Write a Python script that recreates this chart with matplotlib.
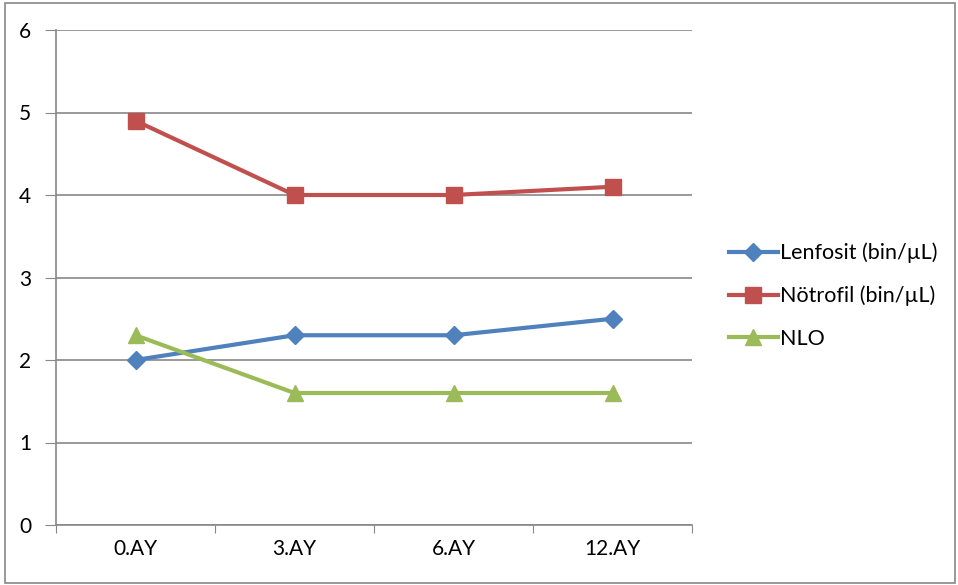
import matplotlib
matplotlib.use("Agg")
import matplotlib.pyplot as plt
from matplotlib.patches import Rectangle

categories = ["0.AY", "3.AY", "6.AY", "12.AY"]
lenfosit = [2.0, 2.3, 2.3, 2.5]
notrofil = [4.9, 4.0, 4.0, 4.1]
nlo = [2.3, 1.6, 1.6, 1.6]
y_ticks = [0, 1, 2, 3, 4, 5, 6]

plt.rcParams["font.family"] = ["Lato", "DejaVu Sans"]

W, H = 958, 585
fig = plt.figure(figsize=(W / 100, H / 100), dpi=100)
fig.patches.append(Rectangle((5 / W, 2 / H), 950 / W, 580 / H, transform=fig.transFigure,
                             fill=False, edgecolor="#888888", linewidth=1.2))

ax = fig.add_axes([56 / W, 1 - 525 / H, (692 - 56) / W, (525 - 30) / H])
x = [i + 0.5 for i in range(len(categories))]

ax.plot(x, lenfosit, color="#4F81BD", lw=3, marker="D", ms=9, label="Lenfosit (bin/µL)")
ax.plot(x, notrofil, color="#C0504D", lw=3, marker="s", ms=11, label="Nötrofil (bin/µL)")
ax.plot(x, nlo, color="#9BBB59", lw=3, marker="^", ms=12, label="NLO")

ax.set_xlim(0, len(categories))
ax.set_ylim(0, 6)
ax.set_yticks(y_ticks)
ax.set_xticks(range(len(categories) + 1))
ax.set_xticklabels([])
ax.set_xticks(x, minor=True)
ax.set_xticklabels(categories, minor=True)
ax.tick_params(axis="x", which="minor", length=0, pad=10, labelsize=15)
ax.tick_params(axis="x", which="major", length=6, color="#888888", direction="out")
ax.tick_params(axis="y", length=8, color="#888888", pad=10, labelsize=15)

ax.grid(axis="y", color="#888888", lw=1.2)
ax.set_axisbelow(True)
for s in ["top", "right"]:
    ax.spines[s].set_visible(False)
for s in ["left", "bottom"]:
    ax.spines[s].set_color("#888888")
    ax.spines[s].set_linewidth(1.2)

leg = fig.legend(loc="upper left", bbox_to_anchor=(720 / W, 1 - 234 / H), frameon=False,
                 fontsize=15.5, handlelength=2.3, handletextpad=0.1, labelspacing=1.05,
                 borderaxespad=0)

fig.savefig("out.png", dpi=100)
